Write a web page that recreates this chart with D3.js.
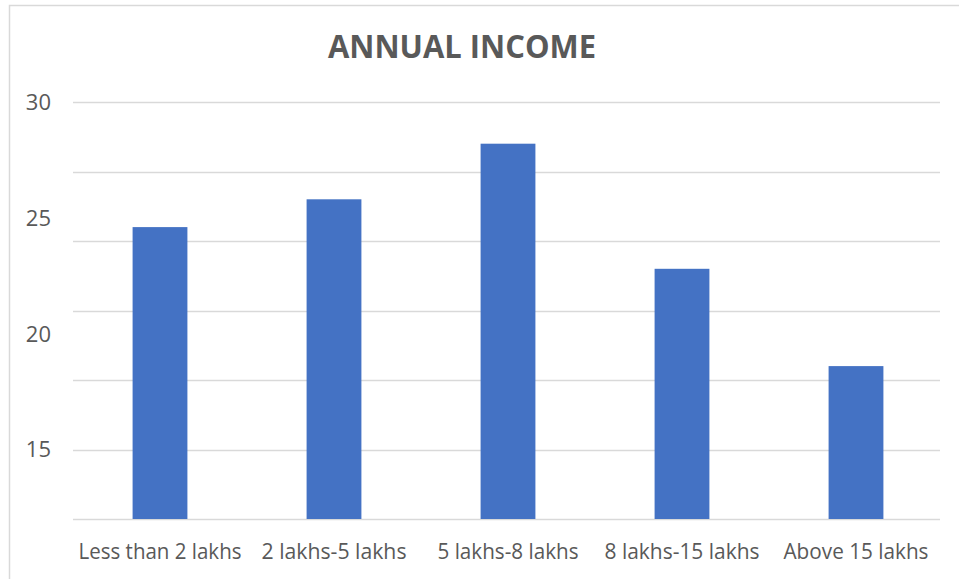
<!DOCTYPE html>
<html lang="en">
<head>
<meta charset="UTF-8">
<title>Annual Income</title>
<script src="https://d3js.org/d3.v7.min.js"></script>
<style>
  body { margin: 0; background: #fff; }
  text { font-family: "Open Sans", sans-serif; fill: #595959; }
</style>
</head>
<body>
<div id="chart"></div>
<script>
// data
const categories = ["Less than 2 lakhs", "2 lakhs-5 lakhs", "5 lakhs-8 lakhs", "8 lakhs-15 lakhs", "Above 15 lakhs"];
const values = [24.6, 25.8, 28.2, 22.8, 18.6];
const tickLabels = [15, 20, 25, 30];
const gridValues = [12, 15, 18, 21, 24, 27, 30];
const labelWidths = [163, 145, 141, 155, 145];

const W = 959, H = 579;
const svg = d3.select("#chart").append("svg")
  .attr("width", W).attr("height", H);

// chart border (cropped on right and bottom)
svg.append("path")
  .attr("d", "M9.5,580 L9.5,5.5 L960,5.5")
  .attr("fill", "none").attr("stroke", "#d9d9d9").attr("stroke-width", 1.5);

const x = d3.scaleBand()
  .domain(categories)
  .range([73, 943])
  .paddingInner(0.685)
  .paddingOuter(0.3425);

const y = d3.scaleLinear()
  .domain([12, 30])
  .range([519, 102]);

// gridlines
svg.append("g").selectAll("line")
  .data(gridValues)
  .join("line")
  .attr("x1", 73).attr("x2", 940)
  .attr("y1", d => Math.round(y(d)) + 0.5)
  .attr("y2", d => Math.round(y(d)) + 0.5)
  .attr("stroke", "#d9d9d9").attr("stroke-width", 1.5);

// bars
svg.append("g").selectAll("rect")
  .data(values)
  .join("rect")
  .attr("x", (d, i) => x(categories[i]))
  .attr("width", x.bandwidth())
  .attr("y", d => y(d))
  .attr("height", d => y(12) - y(d))
  .attr("fill", "#4472c4");

// y tick labels
svg.append("g").selectAll("text")
  .data(tickLabels)
  .join("text")
  .attr("x", 51)
  .attr("y", d => y(d))
  .attr("dy", "0.36em")
  .attr("text-anchor", "end")
  .attr("font-size", 22)
  .text(d => d);

// category labels
svg.append("g").selectAll("text")
  .data(categories)
  .join("text")
  .attr("x", d => x(d) + x.bandwidth() / 2)
  .attr("y", 559)
  .attr("text-anchor", "middle")
  .attr("font-size", 21)
  .attr("textLength", (d, i) => labelWidths[i])
  .attr("lengthAdjust", "spacingAndGlyphs")
  .text(d => d);

// title
svg.append("text")
  .attr("x", 462)
  .attr("y", 58)
  .attr("text-anchor", "middle")
  .attr("font-size", 32)
  .attr("font-weight", "bold")
  .attr("textLength", 268)
  .attr("lengthAdjust", "spacingAndGlyphs")
  .text("ANNUAL INCOME");
</script>
</body>
</html>
